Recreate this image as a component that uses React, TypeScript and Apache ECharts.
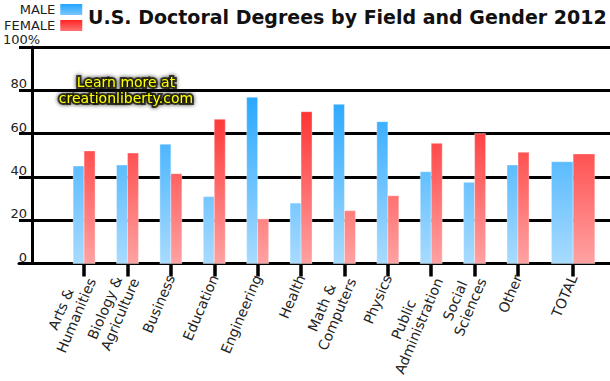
import React, { useEffect, useRef } from 'react';
import * as echarts from 'echarts';

const categories = [
  'Arts &\nHumanities',
  'Biology &\nAgriculture',
  'Business',
  'Education',
  'Engineering',
  'Health',
  'Math &\nComputers',
  'Physics',
  'Public\nAdministration',
  'Social\nSciences',
  'Other',
  'TOTAL',
];
const maleShare = [45.0, 45.5, 55.1, 30.9, 76.8, 27.9, 73.5, 65.5, 42.4, 37.5, 45.5, 47.0];
const femaleShare = [52.0, 51.0, 41.5, 66.6, 20.6, 70.1, 24.4, 31.3, 55.5, 60.0, 51.4, 50.6];
const seriesNames = ['MALE', 'FEMALE'];
const yTicks = { min: 0, max: 100, step: 20 };
const titleText = 'U.S. Doctoral Degrees by Field and Gender 2012';
const watermarkText = 'Learn more at\ncreationliberty.com';

const FONT = '"DejaVu Sans", sans-serif';
const MALE_TOP = [4, 152, 255];
const MALE_BASE = [168, 219, 255];
const FEMALE_TOP = [255, 5, 5];
const FEMALE_BASE = [255, 162, 162];

function mix(base: number[], top: number[], t: number) {
  return `rgb(${base.map((v, i) => Math.round(v + (top[i] - v) * t)).join(',')})`;
}

// TOTAL sits a little further apart from the rest of the fields
const positions = categories.map((c, i) => i + (c === 'TOTAL' ? 0.27 : 0));

function labelFor(v: number) {
  let best = 0;
  positions.forEach((p, i) => {
    if (Math.abs(p - v) < Math.abs(positions[best] - v)) best = i;
  });
  return categories[best]
    .split('\n')
    .map((l) => `{c|${l}}`)
    .join('\n');
}

function barRender(side: number, top: number[], base: number[]) {
  return (params: any, api: any) => {
    const x = api.value(0);
    const v = api.value(1);
    const idx = params.dataIndex;
    const unit = api.size([1, 0])[0];
    const w = unit * (categories[idx] === 'TOTAL' ? 0.5 : 0.253);
    const p0 = api.coord([x, 0]);
    const p1 = api.coord([x, v]);
    return {
      type: 'rect',
      shape: {
        x: side < 0 ? p0[0] - w : p0[0],
        y: p1[1],
        width: w,
        height: p0[1] - p1[1],
      },
      style: {
        fill: new echarts.graphic.LinearGradient(0, 0, 0, 1, [
          { offset: 0, color: mix(base, top, v / 100) },
          { offset: 1, color: mix(base, top, 0) },
        ]),
        stroke: 'rgba(255,255,255,0.35)',
        lineWidth: 1,
      },
    };
  };
}

function legendGradient(top: number[], base: number[]) {
  return new echarts.graphic.LinearGradient(0, 0, 0, 1, [
    { offset: 0, color: mix(base, top, 0.8) },
    { offset: 1, color: mix(base, top, 0.3) },
  ]);
}

export default function App() {
  const ref = useRef<HTMLDivElement>(null);
  useEffect(() => {
    if (!ref.current) return;
    const chart = echarts.init(ref.current, undefined, { renderer: 'svg' });
    chart.setOption({
      animation: false,
      backgroundColor: '#fff',
      title: {
        text: titleText,
        left: 88,
        top: 7,
        padding: 0,
        textStyle: { fontFamily: FONT, fontSize: 19, fontWeight: 'bold', color: '#111' },
      },
      legend: {
        orient: 'vertical',
        left: 4,
        top: 3,
        padding: 0,
        itemGap: 3,
        itemWidth: 22,
        itemHeight: 11,
        align: 'right',
        selectedMode: false,
        icon: 'rect',
        textStyle: { fontFamily: FONT, fontSize: 13, color: '#222' },
        data: [
          { name: seriesNames[0], itemStyle: { color: legendGradient(MALE_TOP, MALE_BASE) } },
          { name: seriesNames[1], itemStyle: { color: legendGradient(FEMALE_TOP, FEMALE_BASE) } },
        ],
      },
      grid: { left: 19, right: 0, top: 47, bottom: 117.5, containLabel: false, outerBoundsMode: 'none' },
      xAxis: {
        type: 'value',
        min: -1.5,
        max: 12.12,
        splitLine: { show: false },
        axisLine: { onZero: false, lineStyle: { color: '#000', width: 3 } },
        axisTick: { customValues: positions, length: 13, lineStyle: { color: '#000', width: 3.5 } },
        axisLabel: {
          customValues: positions,
          rotate: 67,
          margin: 12,
          formatter: (v: number) => labelFor(v),
          rich: {
            c: { align: 'center', fontSize: 14, fontFamily: FONT, color: '#222', lineHeight: 16.5 },
          },
        },
      },
      yAxis: {
        type: 'value',
        min: yTicks.min,
        max: yTicks.max,
        interval: yTicks.step,
        offset: -13,
        axisLine: { show: true, onZero: false, lineStyle: { color: '#000', width: 3 } },
        axisTick: { show: false },
        splitLine: { lineStyle: { color: '#000', width: 3 } },
        axisLabel: {
          margin: 5,
          verticalAlign: 'bottom',
          fontFamily: FONT,
          fontSize: 13,
          color: '#222',
          formatter: (v: number) => (v === yTicks.max ? '' : String(v)),
        },
      },
      graphic: [
        {
          type: 'text',
          x: 3,
          y: 33,
          style: { text: `${yTicks.max}%`, font: `13px ${FONT}`, fill: '#222' },
        },
        {
          type: 'text',
          x: 126,
          y: 74,
          z: 100,
          style: {
            text: watermarkText,
            align: 'center',
            verticalAlign: 'top',
            font: `14px ${FONT}`,
            lineHeight: 16,
            fill: '#ffff00',
            stroke: 'rgba(20,20,0,0.75)',
            lineWidth: 4,
            textShadowColor: 'rgba(0,0,0,0.9)',
            textShadowBlur: 4,
          },
        },
      ],
      series: [
        {
          name: seriesNames[0],
          type: 'custom',
          itemStyle: { color: mix(MALE_BASE, MALE_TOP, 0.6) },
          encode: { x: 0, y: 1 },
          data: positions.map((p, i) => [p, maleShare[i]]),
          renderItem: barRender(-1, MALE_TOP, MALE_BASE),
        },
        {
          name: seriesNames[1],
          type: 'custom',
          itemStyle: { color: mix(FEMALE_BASE, FEMALE_TOP, 0.6) },
          encode: { x: 0, y: 1 },
          data: positions.map((p, i) => [p, femaleShare[i]]),
          renderItem: barRender(1, FEMALE_TOP, FEMALE_BASE),
        },
      ],
    });
    return () => chart.dispose();
  }, []);
  return (
    <div
      ref={ref}
      style={{ position: 'fixed', left: 0, top: 0, width: 610, height: 381, background: '#fff' }}
    />
  );
}
